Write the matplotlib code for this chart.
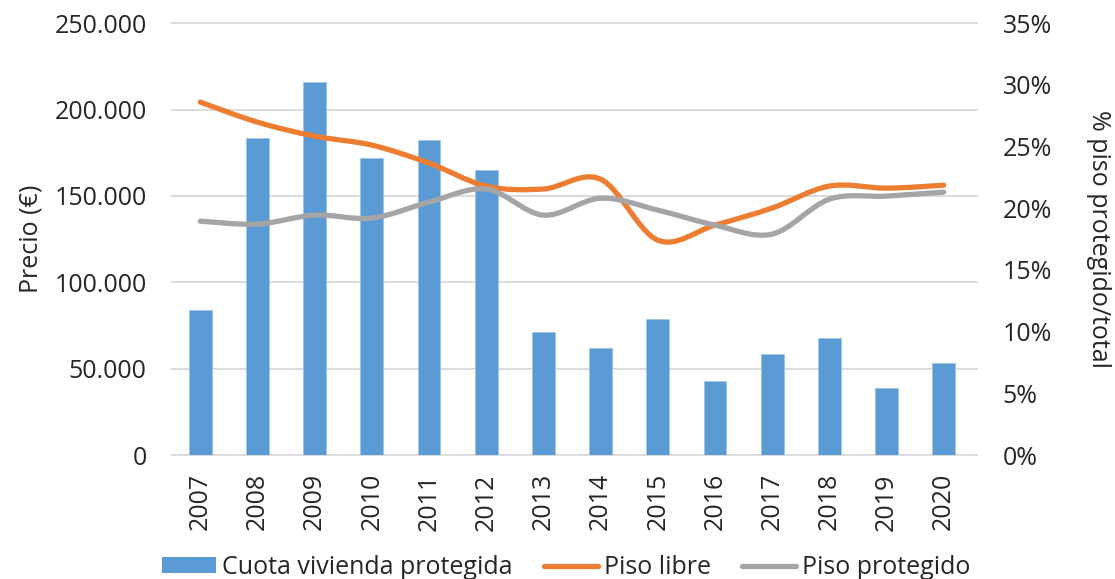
import matplotlib
matplotlib.use("Agg")
import matplotlib.pyplot as plt
import numpy as np
from matplotlib.path import Path
from matplotlib.patches import PathPatch
from matplotlib.lines import Line2D
from matplotlib.patches import Patch
from matplotlib.transforms import blended_transform_factory
from matplotlib.ticker import FuncFormatter

years = ["2007", "2008", "2009", "2010", "2011", "2012", "2013",
         "2014", "2015", "2016", "2017", "2018", "2019", "2020"]
cuota_pct = [11.75, 25.7, 30.2, 24.1, 25.5, 23.1, 10.0,
             8.7, 11.0, 6.0, 8.2, 9.5, 5.4, 7.45]
piso_libre = [204300, 192700, 184600, 179400, 169000, 155700, 154000,
              159700, 124400, 133100, 143000, 155700, 154500, 156200]
piso_protegido = [135400, 133700, 138900, 137200, 146400, 154000, 138900,
                  148700, 141800, 133100, 127900, 148100, 149900, 152200]

left_ticks = [0, 50000, 100000, 150000, 200000, 250000]
right_ticks = [0, 5, 10, 15, 20, 25, 30, 35]

FONT = "Open Sans"
FS = 18
TXT = "#262626"
plt.rcParams["font.family"] = [FONT, "DejaVu Sans"]

fig = plt.figure(figsize=(11.15, 5.79), dpi=100)
ax2 = fig.add_axes([0.154, 0.214, 0.718, 0.746])  # percent axis (bars)
ax = ax2.twinx()
ax.yaxis.tick_left()
ax.yaxis.set_label_position("left")
ax2.yaxis.tick_right()
ax2.yaxis.set_label_position("right")

x = np.arange(len(years))

ax2.bar(x, cuota_pct, width=0.4, color="#5B9BD5", zorder=2,
        edgecolor="#9DC3E6", linewidth=0.5)
ax2.set_ylim(0, 35)
ax2.set_xlim(-0.5, len(years) - 0.5)
ax.set_ylim(0, 250000)

# gridlines (left axis ticks) drawn under bars
tr = blended_transform_factory(ax2.transAxes, ax.transData)
for v in left_ticks:
    ax2.add_line(Line2D([0, 1.006], [v, v], transform=tr, color="#D9D9D9",
                        lw=1.3, zorder=0.5, clip_on=False))


def smooth_path(xs, ys):
    xs = np.asarray(xs, float)
    ys = np.asarray(ys, float)
    n = len(xs)
    verts = [(xs[0], ys[0])]
    codes = [Path.MOVETO]
    for i in range(n - 1):
        i0 = max(i - 1, 0)
        i3 = min(i + 2, n - 1)
        c1 = (xs[i] + (xs[i + 1] - xs[i0]) / 6, ys[i] + (ys[i + 1] - ys[i0]) / 6)
        c2 = (xs[i + 1] - (xs[i3] - xs[i]) / 6, ys[i + 1] - (ys[i3] - ys[i]) / 6)
        verts += [c1, c2, (xs[i + 1], ys[i + 1])]
        codes += [Path.CURVE4] * 3
    return Path(verts, codes)


for ys, col in [(piso_libre, "#ED7D31"), (piso_protegido, "#A5A5A5")]:
    p = PathPatch(smooth_path(x, ys), facecolor="none", edgecolor=col,
                  lw=3.8, capstyle="round", joinstyle="round", zorder=3)
    ax.add_patch(p)

ax.set_zorder(ax2.get_zorder() + 1)
ax.patch.set_visible(False)

for a in (ax, ax2):
    for s in a.spines.values():
        s.set_visible(False)
    a.tick_params(length=0, labelsize=FS, colors=TXT)

ax.set_yticks(left_ticks)
ax.yaxis.set_major_formatter(FuncFormatter(lambda v, p: f"{int(v):,}".replace(",", ".")))
ax.tick_params(axis="y", pad=18)
ax2.set_yticks(right_ticks)
ax2.yaxis.set_major_formatter(FuncFormatter(lambda v, p: f"{int(v)}%"))
ax2.tick_params(axis="y", pad=22)

ax2.set_xticks(x)
ax2.set_xticklabels(years, rotation=90)
ax2.tick_params(axis="x", pad=13)

ax.set_ylabel("Precio (€)", fontsize=FS, color=TXT, labelpad=8)
ax2.set_ylabel("% piso protegido/total", fontsize=FS, color=TXT,
               rotation=270, labelpad=42)

handles = [Patch(facecolor="#5B9BD5", edgecolor="none"),
           Line2D([], [], color="#ED7D31", lw=3.8, solid_capstyle="round"),
           Line2D([], [], color="#A5A5A5", lw=3.8, solid_capstyle="round")]
labels = ["Cuota vivienda protegida", "Piso libre", "Piso protegido"]
fig.legend(handles, labels, loc="center", bbox_to_anchor=(0.508, 0.02),
           ncol=3, frameon=False, fontsize=FS, handlelength=2.15,
           handletextpad=0.25, columnspacing=1.25, handleheight=0.6,
           labelcolor=TXT, borderpad=0)

fig.savefig("out.png", dpi=100)
